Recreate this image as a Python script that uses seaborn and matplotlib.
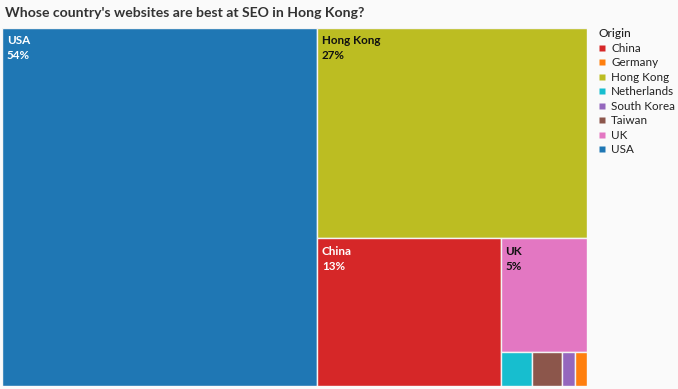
import matplotlib
matplotlib.use("Agg")
import matplotlib.pyplot as plt
from matplotlib.patches import Rectangle
from matplotlib.lines import Line2D
import seaborn as sns

# ---- data ----
countries = ["USA", "Hong Kong", "China", "UK", "Netherlands", "Taiwan", "South Korea", "Germany"]
shares = [53.8, 27.1, 12.95, 4.7, 0.51, 0.49, 0.21, 0.19]
legend_order = ["China", "Germany", "Hong Kong", "Netherlands", "South Korea", "Taiwan", "UK", "USA"]
colors = {
    "USA": "#1f77b4", "Hong Kong": "#bcbd22", "China": "#d62728", "UK": "#e377c2",
    "Netherlands": "#17becf", "Taiwan": "#8c564b", "South Korea": "#9467bd", "Germany": "#ff7f0e",
}
dark_text = {"Hong Kong", "UK"}
title = "Whose country's websites are best at SEO in Hong Kong?"

sns.set_theme(style="white")
plt.rcParams["font.family"] = ["Lato", "DejaVu Sans"]

PHI = (1 + 5 ** 0.5) / 2


def squarify(values, x0, y0, x1, y1, ratio=PHI):
    """d3-style squarified treemap; returns list of (x0, y0, x1, y1)."""
    rects = [None] * len(values)
    total = sum(values)
    i0 = i1 = 0
    n = len(values)
    while i0 < n:
        dx, dy = x1 - x0, y1 - y0
        s = values[i1]
        i1 += 1
        mn = mx = s
        alpha = max(dy / dx, dx / dy) / (total * ratio)
        beta = s * s * alpha
        min_ratio = max(mx / beta, beta / mn)
        while i1 < n:
            v = values[i1]
            s += v
            mn = min(mn, v)
            mx = max(mx, v)
            beta = s * s * alpha
            new_ratio = max(mx / beta, beta / mn)
            if new_ratio > min_ratio:
                s -= v
                break
            min_ratio = new_ratio
            i1 += 1
        row = list(range(i0, i1))
        if dx < dy:  # dice: horizontal band on top
            ny = y0 + dy * s / total if total else y1
            cx = x0
            for k in row:
                w = dx * values[k] / s
                rects[k] = (cx, y0, cx + w, ny)
                cx += w
            y0 = ny
        else:  # slice: vertical band on left
            nx = x0 + dx * s / total if total else x1
            cy = y0
            for k in row:
                h = dy * values[k] / s
                rects[k] = (x0, cy, nx, cy + h)
                cy += h
            x0 = nx
        total -= s
        i0 = i1
    return rects


W, H = 585.0, 358.0
rects = squarify(shares, 0, 0, W, H)

fig = plt.figure(figsize=(6.78, 3.89), dpi=100)
fig.patch.set_facecolor("#fafafa")
ax = fig.add_axes([2 / 678, 3 / 389, W / 678, H / 389])
ax.set_xlim(0, W)
ax.set_ylim(H, 0)
ax.axis("off")

total = sum(shares)
for name, val, (a, b, c, d) in zip(countries, shares, rects):
    ax.add_patch(Rectangle((a, b), c - a, d - b, facecolor=colors[name],
                           edgecolor="#f4f4f4", linewidth=1.0))
    if (c - a) > 40 and (d - b) > 30:
        tc = "#111111" if name in dark_text else "white"
        ax.text(a + 5, b + 7.5, f"{name}\n{round(val / total * 100)}%", color=tc,
                fontsize=8.4, fontweight="bold", va="top", ha="left", linespacing=1.42)

fig.text(5 / 678, 1 - 13 / 389, title, fontsize=10.1, fontweight="bold",
         color="#333333", va="center", ha="left")

handles = [Line2D([0], [0], marker="s", linestyle="none", markersize=5,
                  markerfacecolor=colors[c], markeredgecolor="none", label=c)
           for c in legend_order]
leg = fig.legend(handles=handles, title="Origin", loc="upper left",
                 bbox_to_anchor=(590 / 678, 1 - 20 / 389), frameon=False,
                 fontsize=8.4, title_fontsize=8.6, handlelength=0.6,
                 handletextpad=0.5, labelspacing=0.30, borderpad=0.2,
                 alignment="left")
for t in leg.get_texts():
    t.set_color("#222222")
leg.get_title().set_color("#222222")
leg.get_title().set_fontweight("medium")

fig.savefig("out.png", dpi=100, facecolor=fig.get_facecolor())
